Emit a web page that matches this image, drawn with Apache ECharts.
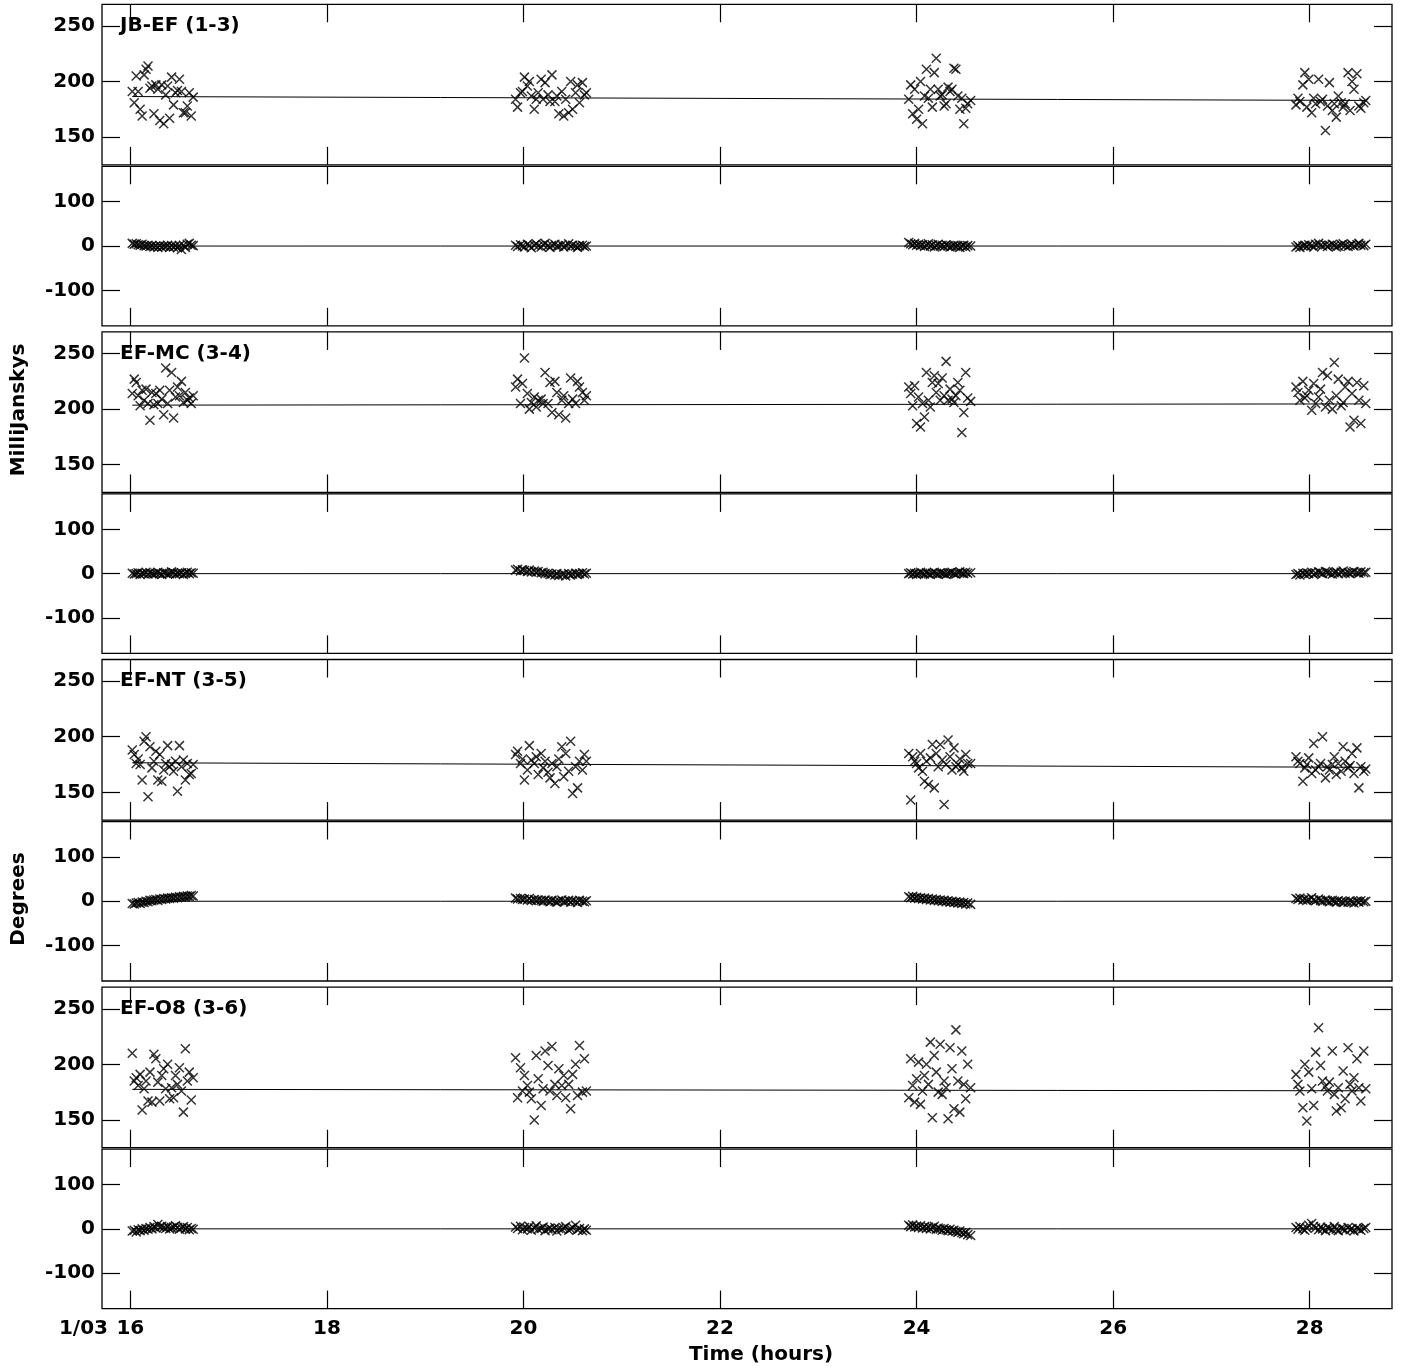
<!DOCTYPE html>
<html><head><meta charset="utf-8">
<script src="https://cdn.jsdelivr.net/npm/echarts@6/dist/echarts.min.js"></script>
<style>html,body{margin:0;padding:0;background:#fff}#c{width:1401px;height:1368px}</style>
</head><body><div id="c"></div>
<script>
// ---------- DATA ----------
const baselines = ['JB-EF (1-3)', 'EF-MC (3-4)', 'EF-NT (3-5)', 'EF-O8 (3-6)'];
const xTicks = [16, 18, 20, 22, 24, 26, 28];
const ampTicks = [150, 200, 250];
const phaseTicks = [-100, 0, 100];

const t1 = [16.02,16.04,16.06,16.08,16.10,16.12,16.14,16.16,16.18,16.20,16.22,16.24,16.26,16.28,16.30,16.32,16.34,16.36,16.38,16.40,16.42,16.44,16.46,16.48,16.50,16.52,16.54,16.56,16.58,16.60,16.62,16.64];
const t2 = [19.92,19.94,19.97,19.99,20.01,20.04,20.06,20.08,20.11,20.13,20.15,20.18,20.20,20.22,20.25,20.27,20.29,20.32,20.34,20.36,20.39,20.41,20.43,20.46,20.48,20.50,20.53,20.55,20.57,20.60,20.62,20.64];
const t3 = [23.92,23.94,23.96,23.98,24.00,24.02,24.04,24.06,24.08,24.10,24.12,24.14,24.16,24.18,24.20,24.22,24.24,24.26,24.28,24.30,24.32,24.34,24.36,24.38,24.40,24.42,24.44,24.46,24.48,24.50,24.52,24.55];
const t4 = [27.86,27.88,27.90,27.93,27.95,27.97,27.99,28.02,28.04,28.06,28.09,28.11,28.13,28.16,28.18,28.20,28.23,28.25,28.27,28.29,28.32,28.34,28.36,28.39,28.41,28.43,28.45,28.48,28.50,28.52,28.55,28.57];

const jbefAmp1 = [191,181,205,191,175,169,206,211,214,194,196,171,197,193,165,197,162,188,196,167,204,179,190,192,202,191,172,172,178,190,169,186];
const jbefAmp2 = [184,177,190,191,204,196,200,187,175,184,190,202,184,199,188,182,206,182,187,171,191,169,184,172,200,175,190,197,181,199,188,190];
const jbefAmp3 = [184,197,171,193,166,175,200,162,187,211,185,193,177,208,221,193,187,188,178,180,195,191,193,212,211,187,175,185,162,176,180,183];
const jbefAmp4 = [179,185,182,197,208,177,202,172,185,180,202,182,184,156,178,199,174,180,168,187,181,177,180,208,174,200,193,207,178,176,181,183];

const efmcAmp1 = [214,227,224,212,203,217,208,218,205,190,215,204,214,205,217,209,195,237,205,217,233,192,211,220,212,225,206,215,208,210,205,212];
const efmcAmp2 = [220,227,205,223,246,214,200,206,211,202,208,209,205,233,205,224,197,225,215,195,208,212,192,205,228,209,205,225,220,215,208,212];
const efmcAmp3 = [220,214,203,221,187,211,184,205,193,233,208,202,224,230,215,223,208,228,212,243,208,218,209,206,212,224,217,179,197,233,210,207];
const efmcAmp4 = [220,215,208,225,210,212,217,199,223,205,211,218,233,202,230,208,200,242,212,227,203,206,220,225,184,214,190,224,208,187,221,205];

const efntAmp1 = [188,184,176,180,175,161,196,200,146,191,172,178,187,161,184,160,170,176,192,173,175,169,178,151,192,173,179,161,176,166,167,175];
const efntAmp2 = [184,187,176,180,161,170,192,179,176,182,166,185,172,178,168,163,176,158,173,180,191,164,185,169,196,149,173,154,178,170,184,178];
const efntAmp3 = [185,143,182,178,176,172,185,169,160,178,157,181,193,154,185,173,193,179,139,175,197,182,170,190,173,175,180,172,169,184,176,176];
const efntAmp4 = [182,178,176,160,172,175,181,167,194,170,173,176,200,163,173,170,175,182,166,176,169,191,178,172,174,185,167,190,154,173,169,171];

const efo8Amp1 = [210,185,188,181,191,159,178,185,167,193,166,209,205,184,167,190,196,178,200,169,179,170,190,182,197,176,157,214,185,193,168,188];
const efo8Amp2 = [206,170,197,176,190,181,175,169,150,208,187,163,178,212,199,176,216,182,172,196,181,190,170,182,160,191,200,172,217,175,205,176];
const efo8Amp3 = [170,205,181,166,187,202,164,176,190,200,182,220,152,208,193,175,218,173,185,179,151,215,196,160,231,185,157,212,182,169,200,179];
const efo8Amp4 = [191,182,176,161,200,149,193,178,163,211,233,199,185,180,176,184,212,173,158,179,161,194,169,215,182,176,188,205,179,167,212,178];

const jbefPh1 = [6,4,5,3,2,4,1,0,2,-1,1,-2,0,-3,1,-2,0,-1,2,-3,1,-2,0,-4,1,-8,2,-3,4,6,2,1];
const jbefPh2 = [2,-1,3,0,-2,4,1,-4,2,5,0,-2,3,6,1,-3,2,4,-1,0,3,-2,1,5,-1,2,0,-3,1,2,-1,0];
const jbefPh3 = [8,5,3,6,2,4,1,3,-1,2,5,0,3,-2,1,4,0,2,-1,3,1,-2,0,2,-1,1,-3,0,2,-2,1,0];
const jbefPh4 = [-2,1,-3,0,2,-1,3,1,-2,4,6,2,0,3,-1,2,4,1,-2,0,3,5,1,-1,2,4,0,3,6,2,1,4];

const efmcPh1 = [1,-1,0,2,-2,1,0,3,-1,2,0,-1,1,3,0,-2,2,1,-1,0,4,2,-1,1,0,2,-2,1,3,0,2,1];
const efmcPh2 = [8,10,6,9,7,5,8,4,6,3,5,2,3,0,1,-2,-1,-3,0,-4,-2,-1,-5,0,-3,-1,1,-2,0,2,-1,1];
const efmcPh3 = [0,2,-1,1,-2,0,3,1,-1,2,0,-2,1,3,0,-1,2,1,0,-2,1,2,3,0,-1,2,4,1,0,3,1,2];
const efmcPh4 = [-2,0,-3,1,-1,2,0,3,-2,1,4,2,0,5,3,1,-1,2,4,0,3,6,1,2,0,3,5,2,1,4,2,3];

const efntPh1 = [-5,-6,-4,-3,-5,-2,-3,0,-1,2,1,3,4,2,5,4,6,5,7,6,8,7,9,8,10,9,11,10,12,11,13,12];
const efntPh2 = [7,5,6,4,5,3,6,2,4,1,3,2,0,3,1,-1,2,0,-2,1,3,-1,0,2,-2,1,0,-3,2,0,-1,1];
const efntPh3 = [10,8,11,7,9,6,8,5,7,4,6,3,5,2,4,1,3,0,2,-1,1,-2,0,-3,-1,-4,-2,-5,-3,-6,-4,-7];
const efntPh4 = [6,4,7,3,5,2,4,8,3,1,5,2,0,3,1,-1,2,0,-2,1,-1,-3,0,-2,1,-1,-4,0,-2,1,-1,0];

const efo8Ph1 = [-5,-3,-7,-2,-4,0,-3,1,-1,3,0,5,2,10,4,6,3,1,5,0,2,4,7,3,-1,2,5,0,3,-2,1,-1];
const efo8Ph2 = [4,1,6,-2,3,0,5,-3,2,7,-1,1,4,-4,0,2,-2,3,-5,1,-1,2,5,-3,0,3,8,-2,1,-4,0,-3];
const efo8Ph3 = [8,5,9,4,6,3,7,2,5,1,4,0,3,6,-1,2,0,-3,1,-2,-4,-1,-5,-3,-6,-8,-5,-9,-11,-8,-13,-15];
const efo8Ph4 = [3,-1,5,0,-3,2,8,12,6,2,-2,4,0,-4,3,1,-2,5,-1,-4,2,0,-3,3,-2,1,-5,2,0,-3,1,3];

const modelTimes = [16.02, 28.57];
const jbefModel = [186.5, 183.0];
const efmcModel = [203.6, 204.7];
const efntModel = [176.6, 172.5];
const efo8Model = [177.5, 176.2];
const phaseModel = [0, 0];

// ---------- BUILD ----------
const scanTimes = [t1, t2, t3, t4];
const ampScans = [
  [jbefAmp1, jbefAmp2, jbefAmp3, jbefAmp4],
  [efmcAmp1, efmcAmp2, efmcAmp3, efmcAmp4],
  [efntAmp1, efntAmp2, efntAmp3, efntAmp4],
  [efo8Amp1, efo8Amp2, efo8Amp3, efo8Amp4]
];
const phaseScans = [
  [jbefPh1, jbefPh2, jbefPh3, jbefPh4],
  [efmcPh1, efmcPh2, efmcPh3, efmcPh4],
  [efntPh1, efntPh2, efntPh3, efntPh4],
  [efo8Ph1, efo8Ph2, efo8Ph3, efo8Ph4]
];
const ampModels = [jbefModel, efmcModel, efntModel, efo8Model];

const FONT = '"DejaVu Sans"';
const FS = 20;
const XMIN = 15.712, XMAX = 28.837;
const PITCH = 327.6;
const grids = [], xAxes = [], yAxes = [], series = [], graphics = [];
const X_SYM = 'path://M0,0L10,10M10,0L0,10';

function pts(scans) {
  const out = [];
  scans.forEach((vals, s) => vals.forEach((v, i) => out.push([scanTimes[s][i], v])));
  return out;
}

for (let b = 0; b < 4; b++) {
  const base = 4.3 + PITCH * b;
  const panels = [
    { top: base, height: 160.6, min: 125, max: 269.5, ticks: ampTicks, data: pts(ampScans[b]), model: ampModels[b] },
    { top: base + 162, height: 159.5, min: -180, max: 180, ticks: phaseTicks, data: pts(phaseScans[b]), model: phaseModel }
  ];
  panels.forEach((p, k) => {
    const g = grids.length;
    const last = (b === 3 && k === 1);
    grids.push({ left: 102, width: 1290, top: p.top, height: p.height, show: true, borderColor: '#000', borderWidth: 1.3, backgroundColor: 'transparent' });
    const xCommon = {
      type: 'value', gridIndex: g, min: XMIN, max: XMAX,
      axisLine: { show: false, onZero: false }, splitLine: { show: false },
      axisTick: { show: true, inside: true, length: 18, lineStyle: { color: '#000', width: 1.2 }, customValues: xTicks }
    };
    xAxes.push(Object.assign({}, xCommon, {
      position: 'bottom',
      axisLabel: last ? { show: true, customValues: xTicks, margin: 10, color: '#000', fontFamily: FONT, fontWeight: 'bold', fontSize: FS } : { show: false }
    }));
    xAxes.push(Object.assign({}, xCommon, { position: 'top', axisLabel: { show: false } }));
    const yCommon = {
      type: 'value', gridIndex: g, min: p.min, max: p.max,
      axisLine: { show: false, onZero: false }, splitLine: { show: false },
      axisTick: { show: true, inside: true, length: 18, lineStyle: { color: '#000', width: 1.2 }, customValues: p.ticks }
    };
    yAxes.push(Object.assign({}, yCommon, {
      position: 'left',
      axisLabel: { show: true, customValues: p.ticks, margin: 7, color: '#000', fontFamily: FONT, fontWeight: 'bold', fontSize: FS }
    }));
    yAxes.push(Object.assign({}, yCommon, { position: 'right', axisLabel: { show: false } }));
    series.push({
      type: 'line', xAxisIndex: 2 * g, yAxisIndex: 2 * g, silent: true,
      data: modelTimes.map((t, i) => [t, p.model[i]]),
      showSymbol: false, symbol: 'none', lineStyle: { color: '#000', width: 1 }, z: 2
    });
    series.push({
      type: 'scatter', xAxisIndex: 2 * g, yAxisIndex: 2 * g, silent: true,
      data: p.data, symbol: X_SYM, symbolSize: [9, 9],
      itemStyle: { color: 'rgba(0,0,0,0)', borderColor: '#000', borderWidth: 1.5 }, z: 3
    });
  });
  graphics.push({
    type: 'text', x: 120, y: 26 + PITCH * b,
    style: { text: baselines[b], font: 'bold ' + FS + 'px ' + FONT, fill: '#000', align: 'left', verticalAlign: 'middle' }
  });
}

graphics.push({ type: 'text', x: 19, y: 410, rotation: Math.PI / 2,
  style: { text: 'MilliJanskys', font: 'bold ' + FS + 'px ' + FONT, fill: '#000', align: 'center', verticalAlign: 'middle' } });
graphics.push({ type: 'text', x: 19, y: 899, rotation: Math.PI / 2,
  style: { text: 'Degrees', font: 'bold ' + FS + 'px ' + FONT, fill: '#000', align: 'center', verticalAlign: 'middle' } });
graphics.push({ type: 'text', x: 761, y: 1355,
  style: { text: 'Time (hours)', font: 'bold ' + FS + 'px ' + FONT, fill: '#000', align: 'center', verticalAlign: 'middle' } });
graphics.push({ type: 'text', x: 108, y: 1329,
  style: { text: '1/03', font: 'bold ' + FS + 'px ' + FONT, fill: '#000', align: 'right', verticalAlign: 'middle' } });

const chart = echarts.init(document.getElementById('c'), null, { renderer: 'canvas' });
chart.setOption({
  animation: false,
  backgroundColor: '#fff',
  grid: grids, xAxis: xAxes, yAxis: yAxes, series: series,
  graphic: { elements: graphics }
});
</script></body></html>
